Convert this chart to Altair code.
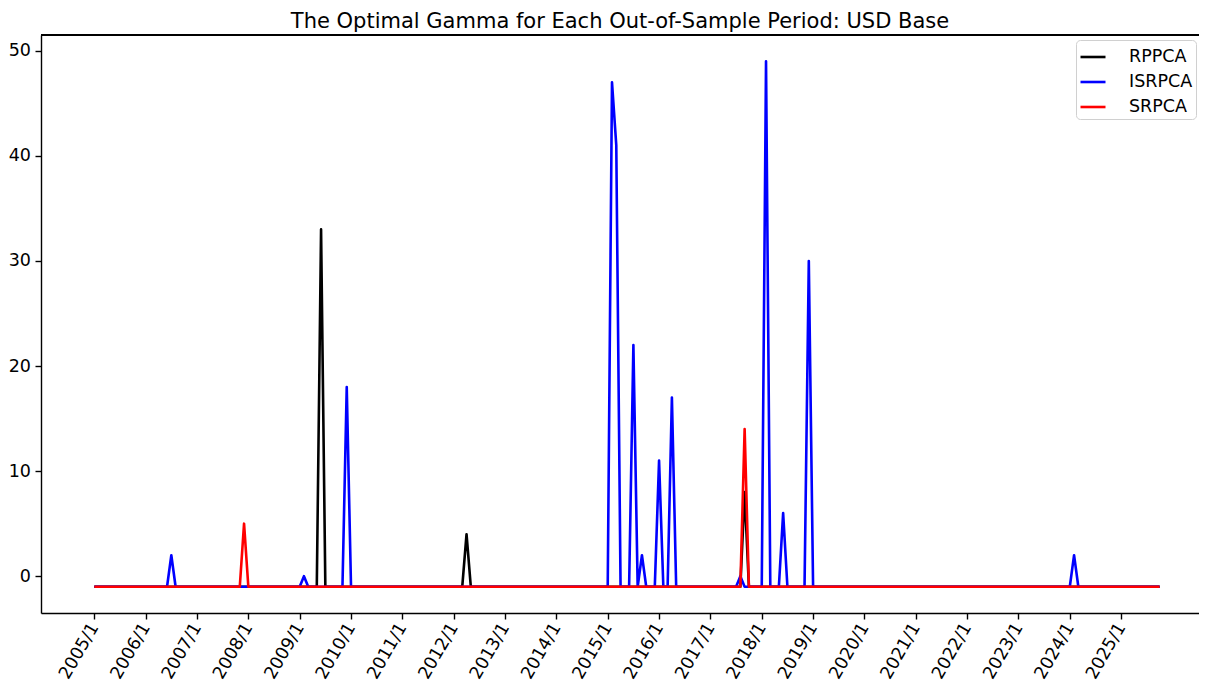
import altair as alt
import pandas as pd

# ---- data (month index 0 = 2005/1) ----
N_MONTHS = 250          # 2005/1 .. 2025/10
BASE = -1               # flat level of every series
SERIES = ["RPPCA", "ISRPCA", "SRPCA"]
COLORS = ["#000000", "#0000ff", "#ff0000"]
TICK_MONTHS = list(range(0, 241, 12))      # 2005/1 ... 2025/1

rppca_spikes = {53: 33, 87: 4, 152: 8}
isrpca_spikes = {18: 2, 49: 0, 59: 18, 121: 47, 122: 41, 126: 22, 128: 2,
                 132: 11, 135: 17, 151: 0, 157: 49, 161: 6, 167: 30, 229: 2}
srpca_spikes = {35: 5, 152: 14}

rows = []
for name, spikes in zip(SERIES, [rppca_spikes, isrpca_spikes, srpca_spikes]):
    for m in range(N_MONTHS):
        rows.append({"month": m, "gamma": spikes.get(m, BASE), "series": name})
df = pd.DataFrame(rows)

W, H = 1158, 578
FONT = "DejaVu Sans"
FS = 17.5

color = alt.Color(
    "series:N",
    scale=alt.Scale(domain=SERIES, range=COLORS),
    legend=alt.Legend(
        title=None, orient="none", legendX=1035, legendY=5,
        symbolType="stroke", symbolSize=625, symbolStrokeWidth=2.6,
        labelFontSize=FS, labelFont=FONT, labelColor="#000000",
        labelOffset=22, rowPadding=2, padding=3,
        fillColor="white", strokeColor="#d0d0d0", cornerRadius=4,
    ),
)

x = alt.X(
    "month:Q",
    scale=alt.Scale(domain=[-12.46, 258.2], nice=False, zero=False),
    axis=alt.Axis(
        title=None, grid=False, values=TICK_MONTHS,
        labelExpr="(2005 + datum.value / 12) + '/1'",
        labelAngle=-60, labelAlign="right", labelBaseline="middle",
        labelPadding=5, labelFontSize=FS, labelFont=FONT, labelColor="#000000",
        tickSize=6, tickWidth=1.4, tickColor="#000000",
        domainColor="#000000", domainWidth=1.4, labelOverlap=False,
    ),
)
y = alt.Y(
    "gamma:Q",
    scale=alt.Scale(domain=[-3.5, 51.5], nice=False, zero=False),
    axis=alt.Axis(
        title=None, grid=False, values=[0, 10, 20, 30, 40, 50],
        labelFontSize=FS, labelFont=FONT, labelColor="#000000", labelPadding=4.5,
        tickSize=6, tickWidth=1.4, tickColor="#000000",
        domainColor="#000000", domainWidth=1.4,
    ),
)

layers = []
for name in SERIES:
    layers.append(
        alt.Chart(df)
        .transform_filter(alt.datum.series == name)
        .mark_line(strokeWidth=2.6, strokeJoin="round", strokeCap="butt")
        .encode(x=x, y=y, color=color)
    )

top_spine = alt.Chart(df).mark_rule(color="#000000", strokeWidth=1.4).encode(
    x=alt.value(0), x2=alt.value(W), y=alt.value(0)
)

chart = (
    alt.layer(*layers, top_spine)
    .properties(
        width=W, height=H,
        title=alt.TitleParams(
            "The Optimal Gamma for Each Out-of-Sample Period: USD Base",
            fontSize=21, font=FONT, fontWeight="normal", color="#000000",
            offset=2, anchor="middle",
        ),
        autosize=alt.AutoSizeParams(type="none"),
        padding={"left": 33, "top": 27, "right": 0, "bottom": 81},
    )
    .configure_view(stroke=None)
    .configure(background="white")
)

chart.save("out.html", embed_options={"renderer": "svg", "actions": False})
